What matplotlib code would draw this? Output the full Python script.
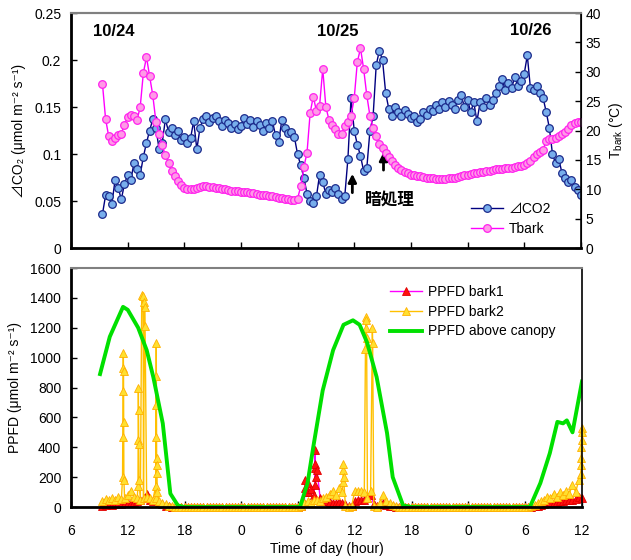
import numpy as np
import matplotlib
matplotlib.use('Agg')
import matplotlib.pyplot as plt
from matplotlib.ticker import FuncFormatter

plt.rcParams['font.family'] = ['Liberation Sans', 'Noto Sans CJK JP', 'DejaVu Sans']
plt.rcParams['mathtext.default'] = 'regular'

# logger records every 20 min, hours counted from 0:00 on 10/24
start_hour = 9.33

co2 = [0.036, 0.056, 0.055, 0.047, 0.072, 0.064, 0.052, 0.068, 0.078, 0.072,
       0.090, 0.084, 0.078, 0.097, 0.112, 0.125, 0.137, 0.128, 0.105, 0.112,
       0.137, 0.124, 0.128, 0.120, 0.125, 0.115, 0.118, 0.112, 0.117, 0.135,
       0.105, 0.128, 0.137, 0.141, 0.134, 0.138, 0.140, 0.135, 0.130, 0.136,
       0.133, 0.128, 0.132, 0.127, 0.130, 0.138, 0.132, 0.136, 0.129, 0.135,
       0.131, 0.125, 0.133, 0.128, 0.135, 0.120, 0.113, 0.136, 0.128, 0.122,
       0.124, 0.118, 0.100, 0.088, 0.075, 0.058, 0.050, 0.048, 0.055, 0.078,
       0.070, 0.058, 0.062, 0.060, 0.064, 0.058, 0.052, 0.055, 0.095, 0.160,
       0.125, 0.110, 0.098, 0.082, 0.085, 0.125, 0.140, 0.195, 0.210, 0.200,
       0.165, 0.148, 0.140, 0.150, 0.145, 0.140, 0.147, 0.143, 0.138, 0.140,
       0.134, 0.137, 0.145, 0.142, 0.148, 0.146, 0.152, 0.148, 0.155, 0.150,
       0.157, 0.152, 0.148, 0.158, 0.163, 0.150, 0.158, 0.145, 0.155, 0.135,
       0.155, 0.150, 0.160, 0.152, 0.158, 0.165, 0.172, 0.180, 0.168, 0.176,
       0.170, 0.182, 0.172, 0.178, 0.185, 0.205, 0.170, 0.168, 0.172, 0.165,
       0.160, 0.145, 0.128, 0.100, 0.090, 0.095, 0.080, 0.075, 0.070, 0.072,
       0.065, 0.062, 0.057]

tbark = [28.0, 22.0, 19.0, 18.3, 18.8, 19.2, 19.5, 21.0, 22.3, 22.6,
         22.4, 21.8, 24.0, 29.8, 32.5, 29.3, 26.0, 21.5, 19.5, 17.5,
         15.8, 14.5, 13.2, 12.2, 11.4, 10.8, 10.3, 10.1, 10.0, 10.1,
         10.3, 10.4, 10.5, 10.5, 10.4, 10.4, 10.3, 10.2, 10.1, 10.0,
         9.9, 9.8, 9.8, 9.7, 9.6, 9.5, 9.5, 9.4, 9.3, 9.2,
         9.1, 9.0, 9.0, 8.9, 8.8, 8.7, 8.6, 8.5, 8.4, 8.3,
         8.2, 8.1, 8.4, 10.5, 13.8, 16.2, 23.0, 25.8, 23.3, 24.2,
         30.5, 24.0, 21.8, 21.0, 20.2, 19.5, 19.5, 20.8, 21.5, 22.5,
         25.5, 31.7, 34.0, 30.5, 26.0, 22.5, 20.5, 19.0, 17.8, 17.0,
         16.2, 15.5, 14.8, 14.2, 13.7, 13.3, 13.0, 12.7, 12.5, 12.4,
         12.3, 12.2, 12.1, 12.0, 11.9, 11.9, 11.8, 11.8, 11.8, 11.8,
         11.9, 11.9, 12.0, 12.1, 12.2, 12.4, 12.5, 12.6, 12.7, 12.8,
         12.9, 13.0, 13.1, 13.2, 13.3, 13.4, 13.4, 13.5, 13.6, 13.6,
         13.7, 13.8, 13.9, 14.0, 14.2, 14.4, 14.9, 15.5, 16.0, 16.3,
         16.7, 18.3, 18.5, 18.6, 18.8, 19.1, 19.4, 19.8, 20.3, 20.9,
         21.3, 21.4, 21.4]

bark1 = ([10, 15, 20, 15, 20, 25, 20, 30, 30, 25, 35, 40, 45, 60, 90, 50,
          40, 45, 30, 20, 10, 5, 0, 0]
         + [0] * 39
         + [5, 30, 100, 120, 80, 250, 60, 40, 40, 35, 30, 30, 35, 30, 20, 5,
            5, 40, 45, 50, 50, 60, 80, 20, 10, 20, 25, 15, 10, 5, 0, 0]
         + [0] * 41
         + [0, 5, 10, 15, 20, 25, 30, 30, 35, 40, 40, 45, 50, 45, 55, 70, 60])

bark2 = ([40, 55, 45, 60, 50, 70, 55, 60, 80, 110, 70, 60, 50, 60, 70, 60,
          50, 60, 40, 30, 20, 10, 5, 0]
         + [0] * 39
         + [10, 25, 40, 30, 45, 50, 40, 60, 70, 90, 110, 80, 130, 100, 10, 0,
            5, 110, 110, 110, 100, 60, 110, 5, 0, 30, 80, 40, 30, 15, 5, 0]
         + [0] * 41
         + [5, 15, 25, 40, 50, 70, 60, 90, 70, 100, 80, 110, 90, 150, 100, 180, 450])

# short bursts (sunflecks) logged at 1-min intervals
bark1_burst_hour = [30.72, 30.75, 31.05, 31.08, 31.76, 31.78, 31.80, 31.82, 31.84]
bark1_burst = [180, 130, 160, 100, 150, 260, 380, 290, 200]

bark2_burst_hour = [11.45, 11.47, 11.49, 11.51, 11.53, 11.55, 11.57, 11.59,
                    13.08, 13.10, 13.12, 13.14, 13.16, 13.18,
                    13.48, 13.62, 13.76, 13.80, 13.83,
                    14.95, 14.97, 14.99, 15.01, 15.03, 15.05, 15.07, 15.09, 15.11,
                    34.75, 34.77, 34.79, 34.81,
                    37.12, 37.15, 37.18, 37.21, 37.24, 37.85, 37.88,
                    59.88, 59.90, 59.92, 59.94, 59.96, 59.98]
bark2_burst = [200, 470, 780, 930, 1030, 910, 570, 180,
               140, 450, 800, 650, 420, 180,
               1420, 1410, 1370, 1340, 1210,
               140, 470, 880, 1100, 680, 330, 280, 230, 100,
               170, 250, 290, 200,
               1060, 1200, 1270, 1250, 1130, 1200, 1100,
               220, 280, 330, 400, 530, 500]

canopy_hour = [9.07, 10.1, 11.5, 12.0, 13.1, 14.0, 14.7, 15.7, 16.5, 17.3, 18.0,
               30.2, 31.0, 31.6, 32.6, 33.7, 34.8, 35.8, 36.5, 37.3, 38.3, 39.4,
               40.0, 41.1, 42.0, 54.5, 55.6, 56.6, 57.4, 58.0, 58.4, 59.0, 60.0]
canopy = [890, 1140, 1340, 1320, 1200, 1050, 870, 560, 90, 10, 0,
          0, 160, 400, 780, 1050, 1220, 1250, 1220, 1100, 870, 495,
          200, 10, 0, 0, 160, 360, 570, 560, 580, 500, 840]

hour_ticks = [6, 12, 18, 24, 30, 36, 42, 48, 54, 60]
hour_labels = ['6', '12', '18', '0', '6', '12', '18', '0', '6', '12']

co2_hour = start_hour + np.arange(len(co2)) / 3
t_hour = start_hour + np.arange(len(tbark)) / 3
p1_hour = start_hour + np.arange(len(bark1)) / 3
p2_hour = start_hour + np.arange(len(bark2)) / 3


def merge(h, v, bh, bv):
    hh = np.concatenate([h, bh])
    vv = np.concatenate([v, bv]).astype(float)
    idx = np.argsort(hh, kind='stable')
    return hh[idx], vv[idx]


p1_h, p1_v = merge(p1_hour, bark1, bark1_burst_hour, bark1_burst)
p2_h, p2_v = merge(p2_hour, bark2, bark2_burst_hour, bark2_burst)

fig = plt.figure(figsize=(6.31, 5.6), dpi=100)
ax1 = fig.add_axes([0.1125, 0.557, 0.808, 0.4196])
ax2 = ax1.twinx()
ax3 = fig.add_axes([0.1125, 0.0946, 0.8098, 0.4268])

ax1.plot(co2_hour, co2, color='#000080', lw=1, marker='o', ms=5.5,
         mfc='#78AEEC', mec='#1C2B8C', mew=0.9, label='⊿CO2')
ax2.plot(t_hour, tbark, color='#FF00FF', lw=1, marker='o', ms=5.5,
         mfc='#FF9AE6', mec='#FF22EE', mew=0.9, label='Tbark')

ax1.set_xlim(6, 60)
ax1.set_ylim(0, 0.25)
ax2.set_ylim(0, 40)
ax1.set_yticks([0, 0.05, 0.1, 0.15, 0.2, 0.25])
ax1.yaxis.set_major_formatter(FuncFormatter(lambda v, p: '%g' % v))
ax2.set_yticks(range(0, 41, 5))
ax1.set_xticks(hour_ticks)
ax1.set_xticklabels([])
ax1.set_ylabel('⊿CO₂ (μmol m⁻² s⁻¹)', fontsize=10, labelpad=6)
ax2.set_ylabel(r'T$_{bark}$ (°C)', fontsize=10, labelpad=4)

ax1.text(10.55, 0.23, '10/24', fontsize=12, fontweight='bold', ha='center', va='center')
ax1.text(34.3, 0.23, '10/25', fontsize=12, fontweight='bold', ha='center', va='center')
ax1.text(54.7, 0.231, '10/26', fontsize=12, fontweight='bold', ha='center', va='center')
ax1.text(39.8, 0.051, '暗処理', fontsize=12, fontweight='bold', ha='center', va='center')
ax1.annotate('', xy=(35.8, 0.082), xytext=(35.8, 0.056),
             arrowprops=dict(arrowstyle='-|>', lw=2, color='k', mutation_scale=12))
ax1.annotate('', xy=(39.1, 0.105), xytext=(39.1, 0.08),
             arrowprops=dict(arrowstyle='-|>', lw=2, color='k', mutation_scale=12))

h1, l1 = ax1.get_legend_handles_labels()
h2, l2 = ax2.get_legend_handles_labels()
ax2.legend(h1 + h2, l1 + l2, loc='upper left', bbox_to_anchor=(0.76, 0.25),
           frameon=False, fontsize=10, handlelength=2.3, labelspacing=0.45,
           handletextpad=0.4)

ax3.plot(p1_h, p1_v, color='#FF00FF', lw=1, marker='^', ms=5.5,
         mfc='#FF1010', mec='#E00000', mew=0.6, label='PPFD bark1', clip_on=False)
ax3.plot(p2_h, p2_v, color='#FFC000', lw=1, marker='^', ms=5.5,
         mfc='#FFE030', mec='#FFB000', mew=0.6, label='PPFD bark2', clip_on=False)
ax3.plot(canopy_hour, canopy, color='#00E000', lw=2.8, label='PPFD above canopy')

ax3.set_xlim(6, 60)
ax3.set_ylim(0, 1600)
ax3.set_yticks(range(0, 1601, 200))
ax3.set_xticks(hour_ticks)
ax3.set_xticklabels(hour_labels)
ax3.set_xlabel('Time of day (hour)', fontsize=10, labelpad=3)
ax3.set_ylabel('PPFD (μmol m⁻² s⁻¹)', fontsize=10, labelpad=6)
ax3.legend(loc='upper left', bbox_to_anchor=(0.6, 0.98), frameon=False,
           fontsize=10, handlelength=2.3, labelspacing=0.4, handletextpad=0.4)

for ax in (ax1, ax2, ax3):
    ax.tick_params(direction='in', labelsize=10, length=4, width=1)
    ax.spines['top'].set_color('#808080')
    ax.spines['top'].set_linewidth(1.5)
for ax in (ax1, ax3):
    ax.spines['left'].set_linewidth(2)
    ax.spines['bottom'].set_linewidth(2)
    ax.tick_params(axis='y', pad=7)
ax2.spines['right'].set_linewidth(1.2)
ax3.spines['right'].set_linewidth(1.2)
ax3.tick_params(axis='x', pad=12)

fig.savefig('out.png', dpi=100)
